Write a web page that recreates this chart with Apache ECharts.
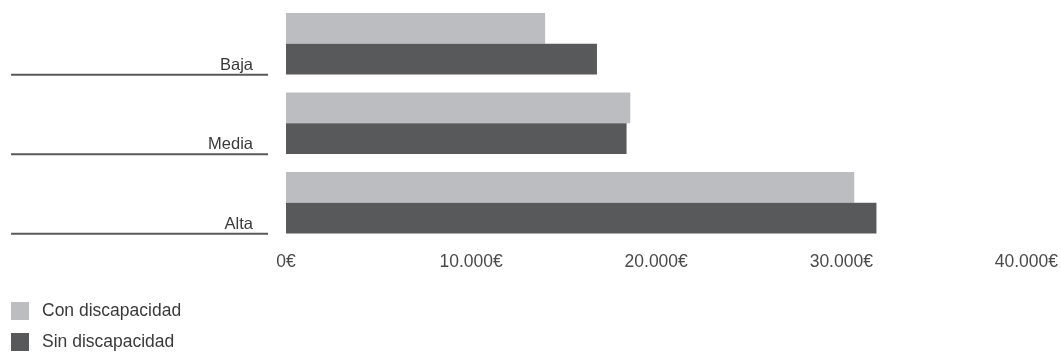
<!DOCTYPE html>
<html>
<head>
<meta charset="utf-8">
<style>
  html, body { margin: 0; padding: 0; background: #ffffff; }
  #chart { width: 1061px; height: 354px; }
</style>
<script src="https://cdn.jsdelivr.net/npm/echarts@6/dist/echarts.min.js"></script>
</head>
<body>
<div id="chart"></div>
<script>
// Salario medio por nivel de ocupación
const categories = ['Baja', 'Media', 'Alta'];
const seriesNames = ['Con discapacidad', 'Sin discapacidad'];
const conDiscapacidad = [14000, 18600, 30700];
const sinDiscapacidad = [16800, 18400, 31900];
const xTicks = [0, 10000, 20000, 30000, 40000];

const FONT = '"Liberation Sans", Arial, sans-serif';
const LIGHT = '#bcbdc0';
const DARK = '#58595b';

function euro(v) {
  return String(Math.round(v)).replace(/\B(?=(\d{3})+(?!\d))/g, '.') + '€';
}

// one legend block per series, stacked down the left edge
function legendFor(name, top) {
  return {
    orient: 'vertical',
    left: 11,
    top: top,
    padding: 0,
    itemWidth: 18,
    itemHeight: 18,
    icon: 'rect',
    data: [name],
    textStyle: { fontFamily: FONT, fontSize: 17.5, color: '#3a3a3a', padding: [0, 0, 0, 8] }
  };
}

const chart = echarts.init(document.getElementById('chart'), null, { renderer: 'canvas' });

chart.setOption({
  animation: false,
  backgroundColor: '#ffffff',
  textStyle: { fontFamily: FONT },
  grid: { left: 286, right: 33, top: 4, bottom: 111.5, containLabel: false },
  legend: [legendFor(seriesNames[0], 302), legendFor(seriesNames[1], 333)],
  xAxis: {
    type: 'value',
    min: xTicks[0],
    max: xTicks[xTicks.length - 1],
    interval: xTicks[1] - xTicks[0],
    axisLine: { show: false },
    axisTick: { show: false },
    splitLine: { show: false },
    axisLabel: {
      margin: 11,
      fontFamily: FONT,
      fontSize: 17.5,
      color: '#4a4a4a',
      formatter: euro
    }
  },
  yAxis: {
    type: 'category',
    data: categories,
    inverse: true,
    axisLine: { show: false },
    axisTick: { show: false },
    splitLine: { show: false },
    axisLabel: {
      margin: 18,
      align: 'right',
      verticalAlign: 'top',
      padding: [13, 0, 0, 0],
      formatter: function (v) { return '{n|' + v + '}\n{l|}'; },
      rich: {
        n: { fontFamily: FONT, fontSize: 16.5, color: '#3a3a3a', lineHeight: 17, padding: [0, 15, 0, 0] },
        l: { width: 257, height: 2, lineHeight: 2, backgroundColor: '#5a5a5a' }
      }
    }
  },
  series: [
    {
      name: seriesNames[0],
      type: 'bar',
      data: conDiscapacidad,
      itemStyle: { color: LIGHT },
      barGap: '0%',
      barCategoryGap: '22.8%'
    },
    {
      name: seriesNames[1],
      type: 'bar',
      data: sinDiscapacidad,
      itemStyle: { color: DARK },
      barGap: '0%',
      barCategoryGap: '22.8%'
    }
  ]
});
</script>
</body>
</html>
